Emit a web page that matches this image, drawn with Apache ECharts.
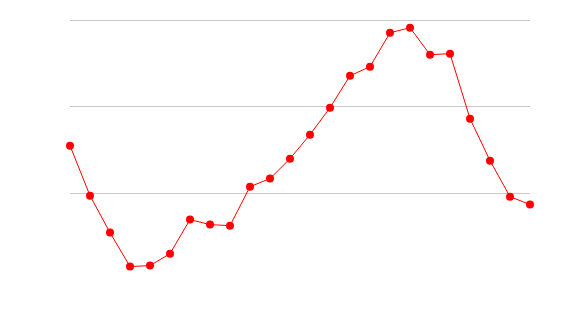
<!DOCTYPE html>
<html>
<head>
<meta charset="utf-8">
<script src="https://cdn.jsdelivr.net/npm/echarts@6/dist/echarts.min.js"></script>
<style>html,body{margin:0;padding:0;background:#fff}#c{width:570px;height:320px}</style>
</head>
<body>
<div id="c"></div>
<script>
const categories = ['1','2','3','4','5','6','7','8','9','10','11','12','13','14','15','16','17','18','19','20','21','22','23','24'];
const values = [155.0, 97.3, 54.7, 15.5, 16.6, 30.4, 69.7, 63.9, 62.7, 107.7, 117.0, 140.0, 167.7, 198.8, 235.7, 246.1, 285.3, 291.1, 260.0, 261.1, 186.2, 137.7, 96.2, 87.0];
const yTicks = [0, 100, 200, 300];

const chart = echarts.init(document.getElementById('c'), null, {renderer: 'canvas'});
chart.setOption({
  animation: false,
  backgroundColor: '#fff',
  grid: {left: 70, right: 40, top: 20, bottom: 40},
  xAxis: {
    type: 'category', data: categories, boundaryGap: false,
    axisLine: {show: false}, axisTick: {show: false}, axisLabel: {show: false},
    splitLine: {show: false}
  },
  yAxis: {
    type: 'value', min: yTicks[0], max: yTicks[yTicks.length - 1], interval: 100,
    axisLine: {show: false}, axisTick: {show: false}, axisLabel: {show: false},
    splitLine: {show: true, showMinLine: false, lineStyle: {color: '#c8c8c8', width: 1}}
  },
  series: [{
    type: 'line', data: values,
    symbol: 'circle', symbolSize: 8, showAllSymbol: true,
    lineStyle: {color: '#ff0000', width: 1},
    itemStyle: {color: '#ff0000'}
  }]
});
</script>
</body>
</html>
